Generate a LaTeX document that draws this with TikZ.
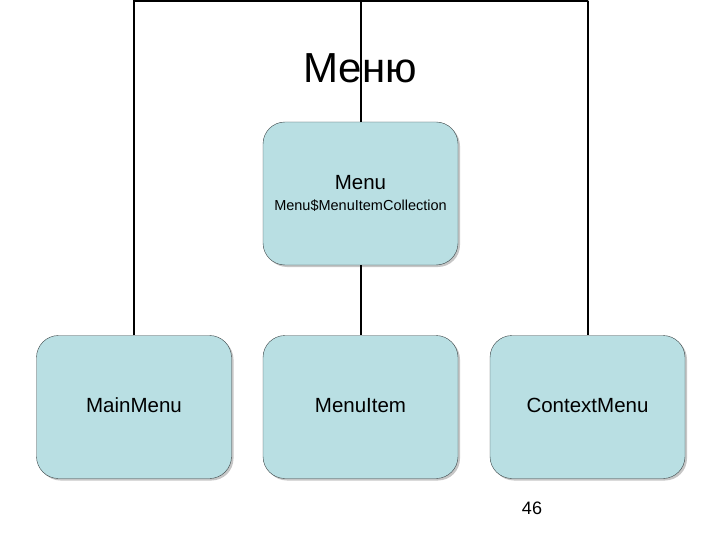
\documentclass[tikz,border=0pt]{standalone}
\usepackage{fontspec}
\setmainfont{Liberation Sans}
\usepackage{xcolor}
\usetikzlibrary{positioning, shadows}
\definecolor{boxfill}{RGB}{185,223,227}
\definecolor{boxline}{RGB}{60,70,72}

\begin{document}
\begin{tikzpicture}[x=1pt, y=-1pt, every node/.style={inner sep=2pt},
  box/.style={rectangle, rounded corners=22pt, draw=boxline, thin, fill=boxfill,
    minimum width=195pt, minimum height=143pt, align=center,
    text height=15pt, text depth=4pt, font=\fontsize{20.5}{24}\selectfont,
    drop shadow={shadow xshift=2pt, shadow yshift=-2pt, opacity=0.45}},
  link/.style={black, line width=2pt}]
\useasboundingbox (0,0) rectangle (720,540);
\coordinate (topL) at (134,1);
\coordinate (topR) at (588,1);
% boxes
\node[box, text height=, text depth=] (Menu) at (360.5,193.5)
  {Menu\\[-3pt]{\fontsize{14.5}{17}\selectfont Menu\$MenuItemCollection}};
\node[box] (MenuItem) at (360.5,407) {MenuItem};
\node[box] (MainMenu) at (134,407) {MainMenu};
\node[box] (ContextMenu) at (587.5,407) {ContextMenu};
% connectors
\draw[link] (MainMenu.north) -- (MainMenu.north |- topL) -- (topR) -- (ContextMenu.north |- topR) -- (ContextMenu.north);
\draw[link] (Menu.north) -- (Menu.north |- topL);
\draw[link] (Menu.south) -- (MenuItem.north);
% title and page number
\node[font=\fontsize{42}{48}\selectfont] (title) at (360,68) {Меню};
\node[font=\fontsize{18}{22}\selectfont] (page) at (532,508) {46};
\end{tikzpicture}
\end{document}
